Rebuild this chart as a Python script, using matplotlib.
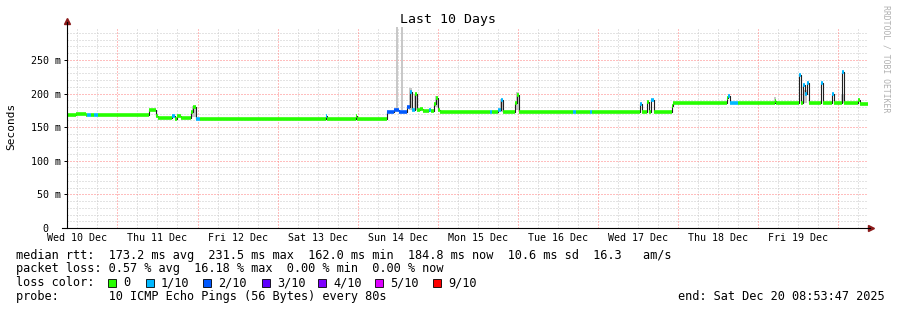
import matplotlib
matplotlib.use("Agg")
import matplotlib.pyplot as plt
from matplotlib.patches import Rectangle

# Zeitachse: Stunden seit Mi 10.12. 00:00, Ende Sa 20.12. 08:53:47
T_END = 240 + 8.896
T_START = T_END - 240

# Median-RTT als Stufen (Start in Stunden, Wert in ms, Verlust in Zehnteln)
seg_start = [8.9, 11.6, 14.6, 14.9, 16.1, 17.0, 18.2, 33.5, 35.0, 35.6, 36.2, 40.4, 41.3, 41.9,
             43.1, 46.1, 46.7, 47.6, 48.8, 86.6, 86.9, 95.6, 95.9, 104.9, 107.0, 108.5, 110.9,
             111.8, 112.4, 113.3, 113.9, 114.8, 115.7, 117.5, 118.1, 119.0, 119.6, 120.2, 120.8,
             135.5, 136.1, 137.9, 138.8, 139.4, 143.0, 143.6, 144.2, 160.4, 161.3, 165.5, 166.1,
             180.5, 181.1, 182.6, 183.2, 183.8, 184.7, 190.1, 190.4, 206.6, 206.9, 207.5, 209.9,
             221.0, 221.3, 228.2, 228.8, 229.4, 230.0, 230.6, 231.2, 234.8, 235.4, 238.1, 238.7,
             241.1, 241.7, 245.9, 246.5]
seg_rtt = [168, 169.5, 168, 168, 168, 168, 168, 176, 175, 166, 163, 166, 162, 167,
           163, 172, 180, 162.5, 162, 167, 162, 167, 162, 173, 175, 173, 180,
           203, 175, 199, 175, 177, 174, 176, 174, 185, 193, 176, 173,
           173, 173, 175, 190, 173, 186, 198, 173, 173, 173, 173, 173,
           185, 173, 188, 173, 190, 173, 181, 185.5, 193, 197, 185.5, 185.5,
           189, 185.5, 228, 186, 212, 200, 216, 185.5, 216, 185.5, 199, 185.5,
           231.5, 185.5, 190, 185]
seg_loss = [0, 0, 0, 1, 0, 1, 0, 0, 0, 0, 0, 1, 0, 0,
            0, 0, 0, 1, 0, 1, 0, 0, 0, 2, 2, 2, 2,
            1, 1, 0, 0, 0, 0, 1, 0, 0, 0, 0, 0,
            1, 0, 1, 1, 0, 0, 0, 0, 1, 0, 1, 0,
            1, 0, 0, 0, 1, 0, 0, 0, 0, 1, 1, 0,
            0, 0, 1, 0, 1, 1, 1, 0, 1, 0, 1, 0,
            1, 0, 0, 0]

# Rauch (Streuung der einzelnen Pings)
smoke_start = [107.4, 108.9, 111.5, 113.0, 119.3, 138.5, 143.3, 46.4, 220.7, 229.4, 240.9]
smoke_end = [108.0, 109.5, 112.4, 113.9, 120.2, 139.4, 144.2, 47.6, 221.3, 230.6, 241.7]
smoke_lo = [175, 175, 175, 175, 180, 173, 175, 165, 186, 186, 186]
smoke_hi = [320, 320, 208, 200, 196, 192, 203, 182, 195, 205, 200]

# Verlustfarben
loss_labels = ["0", "1/10", "2/10", "3/10", "4/10", "5/10", "9/10"]
loss_colors = ["#26ff00", "#00b8ff", "#0059ff", "#5e00ff", "#7e00ff", "#dd00ff", "#ff0000"]

day_labels = ["Wed 10 Dec", "Thu 11 Dec", "Fri 12 Dec", "Sat 13 Dec", "Sun 14 Dec",
              "Mon 15 Dec", "Tue 16 Dec", "Wed 17 Dec", "Thu 18 Dec", "Fri 19 Dec"]
y_ticks = [0, 50, 100, 150, 200, 250]
y_labels = ["0  ", "50 m", "100 m", "150 m", "200 m", "250 m"]

stats_lines = [
    "median rtt:  173.2 ms avg  231.5 ms max  162.0 ms min  184.8 ms now  10.6 ms sd  16.3   am/s",
    "packet loss: 0.57 % avg  16.18 % max  0.00 % min  0.00 % now",
    "loss color:",
    "probe:       10 ICMP Echo Pings (56 Bytes) every 80s",
]
end_text = "end: Sat Dec 20 08:53:47 2025"

plt.rcParams["font.family"] = "DejaVu Sans Mono"

W, H = 897, 310
fig = plt.figure(figsize=(W / 100, H / 100), dpi=100)
ax = fig.add_axes([67 / W, 1 - 228 / H, (868 - 67) / W, (228 - 27) / H])
ax.set_xlim(T_START, T_END)
ax.set_ylim(0, 299)
for s in ax.spines.values():
    s.set_visible(False)

# Raster (gepunktet wie bei rrdtool)
grid_dash = (0, (1, 2))
for h in range(12, 249, 6):
    if h % 24:
        ax.axvline(h, color="#c8c8c8", lw=0.72, ls=grid_dash, zorder=0)
for v in range(10, 300, 10):
    if v % 50:
        ax.axhline(v, color="#c8c8c8", lw=0.72, ls=grid_dash, zorder=0)
for h in range(24, 241, 24):
    ax.axvline(h, color="#ff7f7f", lw=0.72, ls=grid_dash, zorder=1)
for v in range(50, 300, 50):
    ax.axhline(v, color="#ff7f7f", lw=0.72, ls=grid_dash, zorder=1)

# Rauch
for a, b, lo, hi in zip(smoke_start, smoke_end, smoke_lo, smoke_hi):
    ax.fill_between([a, b], lo, hi, color="#c8c8c8", lw=0, zorder=2)

# Median-Linie
edges = seg_start + [T_END]
ax.plot(edges, seg_rtt + [seg_rtt[-1]], drawstyle="steps-post", color="#202020", lw=0.8, zorder=3)
ax.hlines(seg_rtt, seg_start, edges[1:], colors=[loss_colors[l] for l in seg_loss],
          lw=2.6, zorder=4)

# Achsen
ax.plot([0, 0], [0, 1.025], transform=ax.transAxes, color="black", lw=0.8, clip_on=False, zorder=5)
ax.plot([-0.006, 1.003], [0, 0], transform=ax.transAxes, color="black", lw=0.8, clip_on=False, zorder=5)
ax.plot([0], [1.03], marker="^", ms=4, color="#8b1a1a", transform=ax.transAxes, clip_on=False)
ax.plot([1.004], [0], marker=">", ms=4, color="#8b1a1a", transform=ax.transAxes, clip_on=False)

ax.set_yticks(y_ticks, y_labels, fontsize=7.2)
ax.tick_params(axis="y", length=2.2, width=0.7, pad=2.2)
ax.set_xticks([12 + 24 * k for k in range(10)], day_labels, fontsize=7.2)
ax.tick_params(axis="x", length=0, pad=3.8)

fig.text(448 / W, 1 - 20 / H, "Last 10 Days", ha="center", va="center", fontsize=9.5)
fig.text(11 / W, 1 - 126 / H, "Seconds", rotation=90, ha="center", va="center", fontsize=8)
fig.text(886 / W, 1 - 5 / H, "RRDTOOL / TOBI OETIKER", rotation=270, ha="center", va="top",
         fontsize=5.9, color="#b0b0b0")

# Legende / Statistik
rows_y = [255, 268.5, 282.5, 296.5]
for txt, y in zip(stats_lines, rows_y):
    fig.text(16 / W, 1 - y / H, txt, ha="left", va="center", fontsize=8.55)
fig.text(678 / W, 1 - rows_y[3] / H, end_text, ha="left", va="center", fontsize=8.55)

box_x = [108, 146, 203, 262, 318, 375, 433]
for bx, lab, col in zip(box_x, loss_labels, loss_colors):
    fig.add_artist(Rectangle((bx / W, 1 - (rows_y[2] + 4) / H), 8 / W, 8 / H,
                             transform=fig.transFigure, fc=col, ec="black", lw=0.6))
    fig.text((bx + 15) / W, 1 - rows_y[2] / H, lab, ha="left", va="center", fontsize=8.55)

fig.savefig("out.png", dpi=100)
